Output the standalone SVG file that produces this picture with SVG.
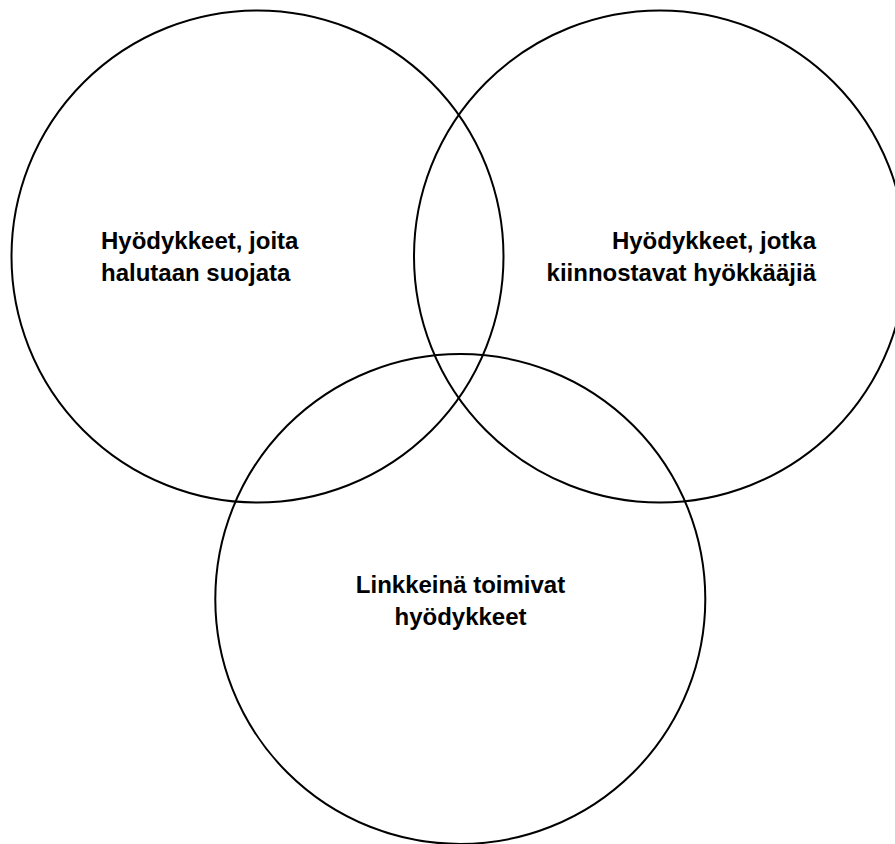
<svg xmlns="http://www.w3.org/2000/svg" width="895" height="844" viewBox="0 0 895 844">
<style>
.c{fill:none;stroke:#000;stroke-width:2}
.t{font-family:"Liberation Sans",Arial,sans-serif;font-weight:bold;font-size:24px;fill:#000}
</style>
<rect width="895" height="844" fill="#fff"/>
<g id="circle-protect">
<circle class="c" cx="257.5" cy="256.5" r="246"/>
<text class="t" x="101" y="249">Hyödykkeet, joita</text>
<text class="t" x="101" y="281">halutaan suojata</text>
</g>
<g id="circle-attackers">
<circle class="c" cx="660" cy="256.5" r="246"/>
<text class="t" x="816" y="249" text-anchor="end">Hyödykkeet, jotka</text>
<text class="t" x="816" y="281" text-anchor="end">kiinnostavat hyökkääjiä</text>
</g>
<g id="circle-links">
<circle class="c" cx="460.3" cy="599" r="245"/>
<text class="t" x="460.5" y="593" text-anchor="middle">Linkkeinä toimivat</text>
<text class="t" x="460.5" y="625" text-anchor="middle">hyödykkeet</text>
</g>
<g id="connectors"/>
</svg>
